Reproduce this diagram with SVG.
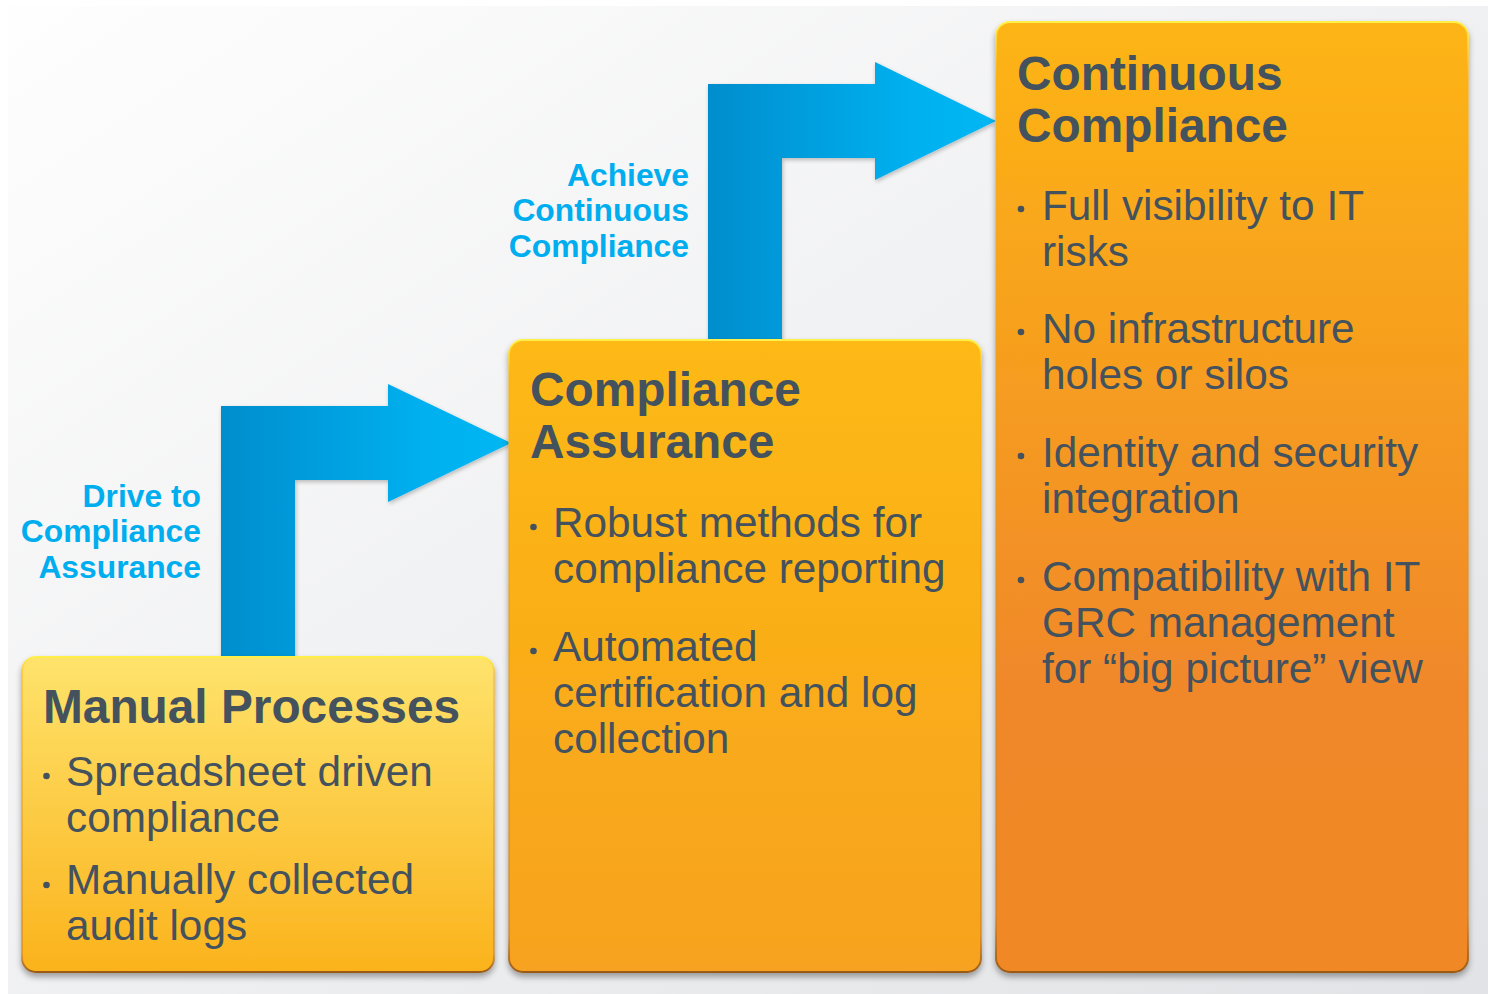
<svg xmlns="http://www.w3.org/2000/svg" width="1488" height="994" viewBox="0 0 1488 994">
<defs>
  <linearGradient id="bg" x1="0" y1="0" x2="1" y2="1">
    <stop offset="0" stop-color="#fefefe"/>
    <stop offset="1" stop-color="#e2e3e6"/>
  </linearGradient>
  <linearGradient id="g1" x1="0" y1="0" x2="0" y2="1">
    <stop offset="0" stop-color="#fee36c"/>
    <stop offset="1" stop-color="#fbb31c"/>
  </linearGradient>
  <linearGradient id="g2" x1="0" y1="0" x2="0" y2="1">
    <stop offset="0" stop-color="#fdb912"/>
    <stop offset="1" stop-color="#f7a220"/>
  </linearGradient>
  <linearGradient id="g3" x1="0" y1="0" x2="0" y2="1">
    <stop offset="0" stop-color="#fdb514"/>
    <stop offset="0.7" stop-color="#f0882a"/>
    <stop offset="1" stop-color="#f08826"/>
  </linearGradient>
  <linearGradient id="edge" x1="0" y1="0" x2="0" y2="1">
    <stop offset="0" stop-color="#fff04a"/>
    <stop offset="0.06" stop-color="#f9b21a" stop-opacity="0.5"/>
    <stop offset="0.94" stop-color="#c77a1c" stop-opacity="0.5"/>
    <stop offset="1" stop-color="#9a5a14"/>
  </linearGradient>
  <linearGradient id="blue1" gradientUnits="userSpaceOnUse" x1="221" y1="0" x2="511" y2="0">
    <stop offset="0" stop-color="#008dcd"/>
    <stop offset="0.7" stop-color="#00b0ef"/>
    <stop offset="1" stop-color="#00b7f3"/>
  </linearGradient>
  <linearGradient id="blue2" gradientUnits="userSpaceOnUse" x1="708" y1="0" x2="996" y2="0">
    <stop offset="0" stop-color="#008dcd"/>
    <stop offset="0.7" stop-color="#00b0ef"/>
    <stop offset="1" stop-color="#00b7f3"/>
  </linearGradient>
  <filter id="shadow" x="-5%" y="-5%" width="110%" height="115%">
    <feGaussianBlur in="SourceAlpha" stdDeviation="3"/>
    <feOffset dy="4" result="b"/>
    <feComponentTransfer><feFuncA type="linear" slope="0.35"/></feComponentTransfer>
    <feMerge><feMergeNode/><feMergeNode in="SourceGraphic"/></feMerge>
  </filter>
  <filter id="ashadow" x="-5%" y="-5%" width="115%" height="115%">
    <feGaussianBlur in="SourceAlpha" stdDeviation="2"/>
    <feOffset dx="1" dy="2"/>
    <feComponentTransfer><feFuncA type="linear" slope="0.25"/></feComponentTransfer>
    <feMerge><feMergeNode/><feMergeNode in="SourceGraphic"/></feMerge>
  </filter>
  <style>
    .title{font-family:"Liberation Sans",Arial,sans-serif;font-weight:bold;font-size:47.8px;fill:#44525e}
    .body{font-family:"Liberation Sans",Arial,sans-serif;font-size:42.3px;fill:#44525e}
    .lbl{font-family:"Liberation Sans",Arial,sans-serif;font-weight:bold;font-size:31.8px;fill:#00aeef;text-anchor:end}
    .dot{fill:#44525e}
    .box{stroke:url(#edge);stroke-width:2}
  </style>
</defs>
<rect x="0" y="0" width="1488" height="994" fill="#ffffff"/>
<rect x="8" y="6" width="1480" height="988" fill="url(#bg)"/>

<g id="connectors" filter="url(#ashadow)">
  <polygon points="221,657 221,406 388,406 388,384 511,443 388,502 388,480 295,480 295,657" fill="url(#blue1)"/>
  <polygon points="708,340 708,84 875,84 875,62 996,121 875,180 875,158 782,158 782,340" fill="url(#blue2)"/>
</g>

<g id="label-drive">
  <text class="lbl" x="201" y="507">Drive to</text>
  <text class="lbl" x="201" y="542">Compliance</text>
  <text class="lbl" x="201" y="578">Assurance</text>
</g>
<g id="label-achieve">
  <text class="lbl" x="689" y="186">Achieve</text>
  <text class="lbl" x="689" y="221">Continuous</text>
  <text class="lbl" x="689" y="257">Compliance</text>
</g>

<g id="manual-processes">
  <rect class="box" x="22" y="657" width="472" height="315" rx="14" fill="url(#g1)" filter="url(#shadow)"/>
  <text class="title" x="43" y="723">Manual Processes</text>
  <circle class="dot" cx="46.5" cy="776" r="3.3"/>
  <text class="body" x="66" y="786">Spreadsheet driven</text>
  <text class="body" x="66" y="832">compliance</text>
  <circle class="dot" cx="46.5" cy="885" r="3.3"/>
  <text class="body" x="66" y="894">Manually collected</text>
  <text class="body" x="66" y="940">audit logs</text>
</g>

<g id="compliance-assurance">
  <rect class="box" x="509" y="340" width="472" height="632" rx="14" fill="url(#g2)" filter="url(#shadow)"/>
  <text class="title" x="530" y="406">Compliance</text>
  <text class="title" x="530" y="458">Assurance</text>
  <circle class="dot" cx="533.5" cy="527" r="3.3"/>
  <text class="body" x="553" y="537">Robust methods for</text>
  <text class="body" x="553" y="583">compliance reporting</text>
  <circle class="dot" cx="533.5" cy="651" r="3.3"/>
  <text class="body" x="553" y="661">Automated</text>
  <text class="body" x="553" y="707">certification and log</text>
  <text class="body" x="553" y="753">collection</text>
</g>

<g id="continuous-compliance">
  <rect class="box" x="996" y="22" width="472" height="950" rx="14" fill="url(#g3)" filter="url(#shadow)"/>
  <text class="title" x="1017" y="90">Continuous</text>
  <text class="title" x="1017" y="142">Compliance</text>
  <circle class="dot" cx="1021" cy="209" r="3.3"/>
  <text class="body" x="1042" y="220">Full visibility to IT</text>
  <text class="body" x="1042" y="266">risks</text>
  <circle class="dot" cx="1021" cy="332" r="3.3"/>
  <text class="body" x="1042" y="343">No infrastructure</text>
  <text class="body" x="1042" y="389">holes or silos</text>
  <circle class="dot" cx="1021" cy="456" r="3.3"/>
  <text class="body" x="1042" y="467">Identity and security</text>
  <text class="body" x="1042" y="513">integration</text>
  <circle class="dot" cx="1021" cy="580" r="3.3"/>
  <text class="body" x="1042" y="591">Compatibility with IT</text>
  <text class="body" x="1042" y="637">GRC management</text>
  <text class="body" x="1042" y="683">for “big picture” view</text>
</g>
</svg>
